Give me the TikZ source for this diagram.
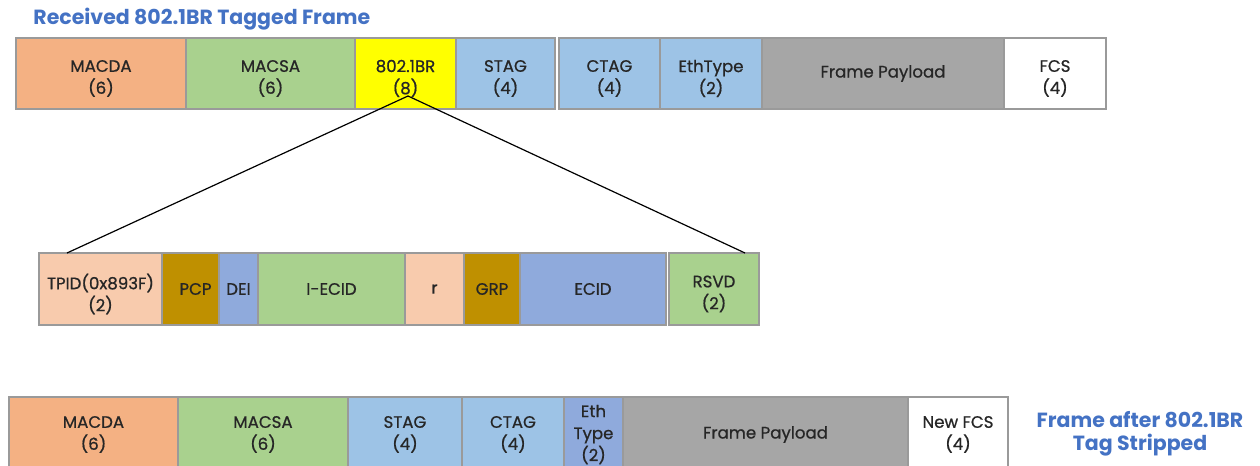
\documentclass[tikz,border=0pt]{standalone}
\usepackage{fontspec}
\setmainfont{Poppins}
\newfontfamily\boxfont{Poppins}[FakeBold=0.8]
\definecolor{bordergray}{HTML}{9A9A9A}
\definecolor{txt}{HTML}{262626}
\definecolor{titleblue}{HTML}{4472C4}
\definecolor{corange}{HTML}{F4B183}
\definecolor{cgreen}{HTML}{A9D18E}
\definecolor{cyellow}{HTML}{FFFF00}
\definecolor{cblue}{HTML}{9DC3E6}
\definecolor{cgray}{HTML}{A6A6A6}
\definecolor{cpeach}{HTML}{F8CBAD}
\definecolor{cgold}{HTML}{BF9000}
\definecolor{cdblue}{HTML}{8FAADC}
\newcommand\fieldbox[8][]{%
  \node[fld, fill=#7, minimum width={(#4-#3)*0.5pt}, minimum height={(#6-#5)*0.5pt}]
    (#2) at ({(#3+#4)/2},{(#5+#6)/2}) {};
  \node[lbl, #1] (#2-text) at (#2.center) {#8};}
\begin{document}
\begin{tikzpicture}[x=0.5pt,y=-0.5pt,
  fld/.style={draw=bordergray, line width=0.8pt, inner sep=0pt},
  lbl/.style={inner sep=0pt, align=center, font=\boxfont\fontsize{8.3}{11}\selectfont, text=txt},
  low/.style={yshift=-2.5pt},
  ttl/.style={text=titleblue, font=\fontsize{10.25}{11.5}\selectfont\bfseries, align=center, inner sep=0pt},
  link/.style={draw=black, line width=0.6pt}]
\useasboundingbox (0,0) rectangle (1260,466);
\clip (0,0) rectangle (1260,466);
% title
\node[ttl, anchor=west] (title) at (33,19) {Received 802.1BR Tagged Frame};
% top frame
\fieldbox[low]{tmacda}{16}{186}{38}{109}{corange}{MACDA\\(6)}
\fieldbox[low]{tmacsa}{186}{355}{38}{109}{cgreen}{MACSA\\(6)}
\fieldbox[low]{tbr}{355}{456}{38}{109}{cyellow}{802.1BR\\(8)}
\fieldbox[low]{tstag}{456}{555}{38}{109}{cblue}{STAG\\(4)}
\fieldbox[low]{tctag}{559}{660}{38}{109}{cblue}{CTAG\\(4)}
\fieldbox[low]{teth}{660}{762}{38}{109}{cblue}{EthType\\(2)}
\fieldbox{tpay}{762}{1004}{38}{109}{cgray}{Frame Payload}
\fieldbox[low]{tfcs}{1004}{1106}{38}{109}{white}{FCS\\(4)}
% tag detail
\fieldbox[low]{tpid}{39}{162}{253}{325}{cpeach}{TPID(0x893F)\\(2)}
\fieldbox[xshift=2.5pt]{pcp}{162}{219}{253}{325}{cgold}{PCP}
\fieldbox{dei}{219}{258}{253}{325}{cdblue}{DEI}
\fieldbox{iecid}{258}{405}{253}{325}{cgreen}{I-ECID}
\fieldbox{rr}{405}{464}{253}{325}{cpeach}{r}
\fieldbox{grp}{464}{520}{253}{325}{cgold}{GRP}
\fieldbox{ecid}{520}{666}{253}{325}{cdblue}{ECID}
\fieldbox[low]{rsvd}{669}{759}{253}{325}{cgreen}{RSVD\\(2)}
% connectors
\coordinate (apex) at (408,96);
\coordinate (tl) at (67,253);
\coordinate (tr) at (745,253);
\draw[link] (apex) -- (tl);
\draw[link] (apex) -- (tr);
% bottom frame
\fieldbox{bmacda}{9}{178}{397}{472}{corange}{MACDA\\(6)}
\fieldbox{bmacsa}{178}{348}{397}{472}{cgreen}{MACSA\\(6)}
\fieldbox{bstag}{348}{462}{397}{472}{cblue}{STAG\\(4)}
\fieldbox{bctag}{462}{564}{397}{472}{cblue}{CTAG\\(4)}
\fieldbox{beth}{564}{623}{397}{472}{cdblue}{Eth\\Type\\(2)}
\fieldbox{bpay}{623}{908}{397}{472}{cgray}{Frame Payload}
\fieldbox{bfcs}{908}{1008}{397}{472}{white}{New FCS\\(4)}
\node[ttl] (stripped) at (1140,434) {Frame after 802.1BR\\Tag Stripped};
\end{tikzpicture}
\end{document}
